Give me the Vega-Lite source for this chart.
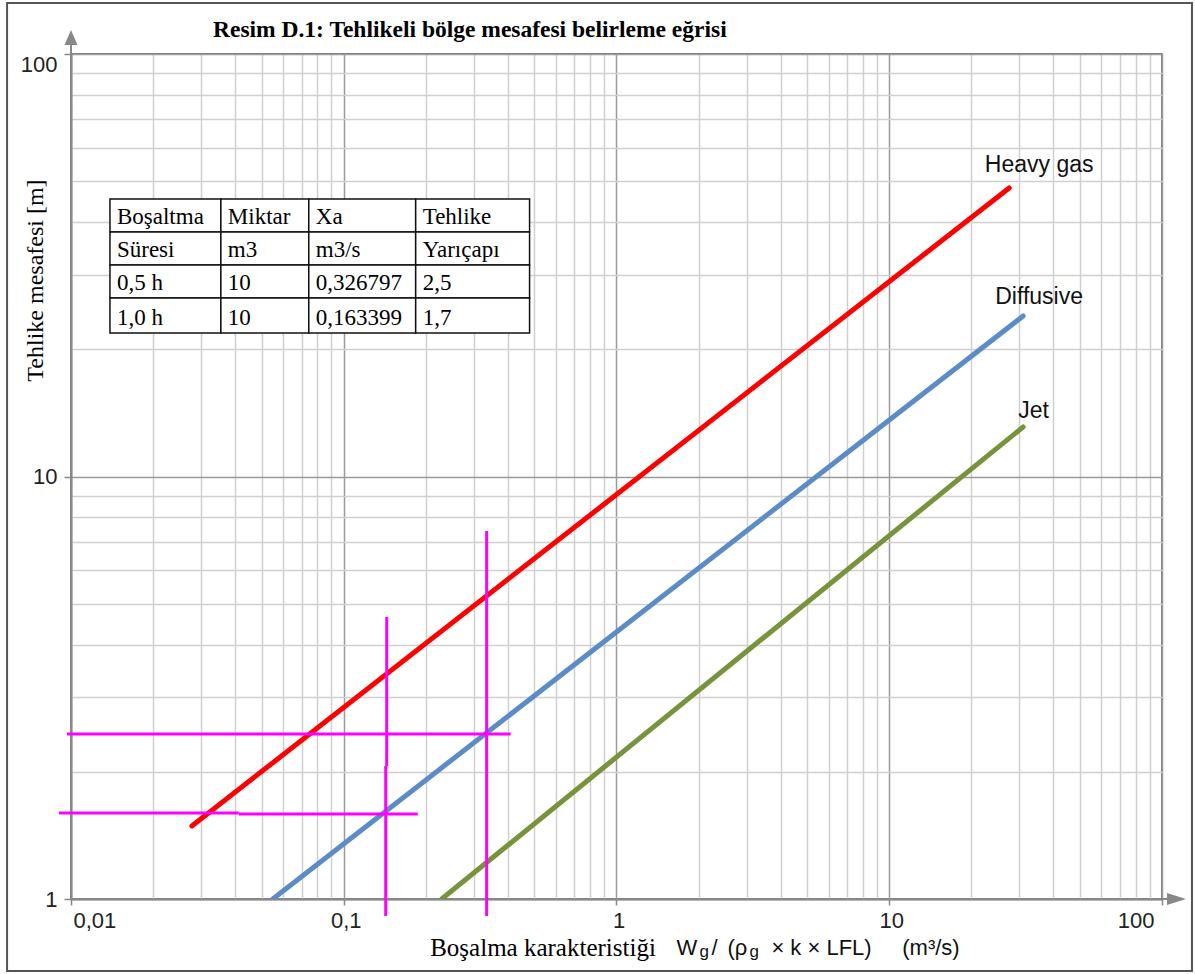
{
  "$schema": "https://vega.github.io/schema/vega-lite/v6.json",
  "width": 1091,
  "height": 845,
  "autosize": {"type": "none"},
  "padding": {"left": 71, "top": 54, "right": 33, "bottom": 75},
  "background": "white",
  "config": {"view": {"stroke": "#555555", "strokeWidth": 1.5}},
  "title": {
    "text": "Resim D.1: Tehlikeli bölge mesafesi belirleme eğrisi",
    "font": "Liberation Serif",
    "fontSize": 23.5,
    "fontWeight": "bold",
    "color": "#000000",
    "anchor": "start",
    "frame": "group",
    "dx": 142,
    "offset": -58,
    "baseline": "alphabetic"
  },
  "datasets": {
    "frame": [{"x": 0.005829, "x2": 128.8, "y": 132.0, "y2": 0.6755}],
    "cells": [
      {"x": 0.013895, "x2": 0.035438, "y": 45.38, "y2": 37.91},
      {"x": 0.035438, "x2": 0.074438, "y": 45.38, "y2": 37.91},
      {"x": 0.074438, "x2": 0.18354, "y": 45.38, "y2": 37.91},
      {"x": 0.18354, "x2": 0.48004, "y": 45.38, "y2": 37.91},
      {"x": 0.013895, "x2": 0.035438, "y": 37.91, "y2": 31.67},
      {"x": 0.035438, "x2": 0.074438, "y": 37.91, "y2": 31.67},
      {"x": 0.074438, "x2": 0.18354, "y": 37.91, "y2": 31.67},
      {"x": 0.18354, "x2": 0.48004, "y": 37.91, "y2": 31.67},
      {"x": 0.013895, "x2": 0.035438, "y": 31.67, "y2": 26.45},
      {"x": 0.035438, "x2": 0.074438, "y": 31.67, "y2": 26.45},
      {"x": 0.074438, "x2": 0.18354, "y": 31.67, "y2": 26.45},
      {"x": 0.18354, "x2": 0.48004, "y": 31.67, "y2": 26.45},
      {"x": 0.013895, "x2": 0.035438, "y": 26.45, "y2": 21.86},
      {"x": 0.035438, "x2": 0.074438, "y": 26.45, "y2": 21.86},
      {"x": 0.074438, "x2": 0.18354, "y": 26.45, "y2": 21.86},
      {"x": 0.18354, "x2": 0.48004, "y": 26.45, "y2": 21.86}
    ],
    "celltext": [
      {"x": 0.013895, "y": 37.91, "t": "Boşaltma"},
      {"x": 0.035438, "y": 37.91, "t": "Miktar"},
      {"x": 0.074438, "y": 37.91, "t": "Xa"},
      {"x": 0.18354, "y": 37.91, "t": "Tehlike"},
      {"x": 0.013895, "y": 31.67, "t": "Süresi"},
      {"x": 0.035438, "y": 31.67, "t": "m3"},
      {"x": 0.074438, "y": 31.67, "t": "m3/s"},
      {"x": 0.18354, "y": 31.67, "t": "Yarıçapı"},
      {"x": 0.013895, "y": 26.45, "t": "0,5 h"},
      {"x": 0.035438, "y": 26.45, "t": "10"},
      {"x": 0.074438, "y": 26.45, "t": "0,326797"},
      {"x": 0.18354, "y": 26.45, "t": "2,5"},
      {"x": 0.013895, "y": 21.86, "t": "1,0 h"},
      {"x": 0.035438, "y": 21.86, "t": "10"},
      {"x": 0.074438, "y": 21.86, "t": "0,163399"},
      {"x": 0.18354, "y": 21.86, "t": "1,7"}
    ],
    "lines": [
      {"s": "Heavy gas", "x": 0.02774, "y": 1.489},
      {"s": "Heavy gas", "x": 27.52, "y": 48.18},
      {"s": "Diffusive", "x": 0.05494, "y": 1.0},
      {"s": "Diffusive", "x": 30.96, "y": 23.98},
      {"s": "Jet", "x": 0.2286, "y": 1.0},
      {"s": "Jet", "x": 30.96, "y": 13.10}
    ],
    "magenta": [
      {"x": 0.3341, "y": 7.430, "x2": 0.3341, "y2": 0.9116},
      {"x": 0.1437, "y": 4.651, "x2": 0.1437, "y2": 2.064},
      {"x": 0.1425, "y": 2.064, "x2": 0.1425, "y2": 0.9116},
      {"x": 0.009668, "y": 2.458, "x2": 0.4090, "y2": 2.458},
      {"x": 0.009037, "y": 1.598, "x2": 0.04124, "y2": 1.598},
      {"x": 0.04124, "y": 1.589, "x2": 0.1867, "y2": 1.589}
    ],
    "curvelabels": [
      {"x": 35.44, "y": 52.56, "t": "Heavy gas"},
      {"x": 35.44, "y": 25.61, "t": "Diffusive"},
      {"x": 33.83, "y": 13.75, "t": "Jet"}
    ],
    "axisext": [
      {"x": 0.01, "y": 100, "x2": 0.01, "y2": 105.0},
      {"x": 100, "y": 1, "x2": 104.3, "y2": 1}
    ],
    "xtitle_main": [
      {"x": 1.659, "y": 0.737, "t": "W"},
      {"x": 2.228, "y": 0.737, "t": "/"},
      {"x": 2.551, "y": 0.737, "t": "(ρ"},
      {"x": 3.697, "y": 0.737, "t": "× k × LFL)"},
      {"x": 11.16, "y": 0.737, "t": "(m³/s)"}
    ],
    "xtitle_sub": [
      {"x": 2.014, "y": 0.729, "t": "g"},
      {"x": 3.071, "y": 0.729, "t": "g"}
    ]
  },
  "encoding": {
    "x": {
      "field": "x",
      "type": "quantitative",
      "scale": {"type": "log", "domain": [0.01, 100], "nice": false},
      "axis": {
        "title": "Boşalma karakteristiği",
        "titleFont": "Liberation Serif",
        "titleFontSize": 25,
        "titleFontWeight": "normal",
        "titleColor": "#000000",
        "titleX": 471.5,
        "titleY": 56,
        "titleBaseline": "alphabetic",
        "titleAlign": "center",
        "values": [0.01, 0.02, 0.03, 0.04, 0.05, 0.06, 0.07, 0.08, 0.09, 0.1, 0.2, 0.3, 0.4, 0.5, 0.6, 0.7, 0.8, 0.9, 1, 2, 3, 4, 5, 6, 7, 8, 9, 10, 20, 30, 40, 50, 60, 70, 80, 90, 100],
        "grid": true,
        "gridColor": {"condition": {"test": "abs(log(datum.value)/LN10 - round(log(datum.value)/LN10)) < 0.001", "value": "#9a9a9a"}, "value": "#d0d0d0"},
        "gridWidth": 1.5,
        "domainColor": "#888888",
        "domainWidth": 2,
        "tickColor": "#888888",
        "tickWidth": 1.5,
        "tickSize": 6,
        "tickOpacity": {"condition": {"test": "abs(log(datum.value)/LN10 - round(log(datum.value)/LN10)) < 0.001", "value": 1}, "value": 0},
        "labelExpr": "abs(log(datum.value)/LN10 - round(log(datum.value)/LN10)) < 0.001 ? replace(format(datum.value, ''), '.', ',') : ''",
        "labelFont": "Liberation Sans",
        "labelFontSize": 22,
        "labelColor": "#222222",
        "labelFlush": true,
        "labelOverlap": false,
        "labelPadding": 5,
        "labelOffset": {"condition": {"test": "datum.value > 50", "value": -8}, "value": 2}
      }
    },
    "y": {
      "field": "y",
      "type": "quantitative",
      "scale": {"type": "log", "domain": [1, 100], "nice": false},
      "axis": {
        "title": "Tehlike mesafesi [m]",
        "titleFont": "Liberation Serif",
        "titleFontSize": 24,
        "titleFontWeight": "normal",
        "titleColor": "#000000",
        "titleX": -29,
        "titleY": 226,
        "titleAngle": 270,
        "titleBaseline": "alphabetic",
        "titleAlign": "center",
        "values": [1, 2, 3, 4, 5, 6, 7, 8, 9, 10, 20, 30, 40, 50, 60, 70, 80, 90, 100],
        "grid": true,
        "gridColor": {"condition": {"test": "abs(log(datum.value)/LN10 - round(log(datum.value)/LN10)) < 0.001", "value": "#9a9a9a"}, "value": "#d0d0d0"},
        "gridWidth": 1.5,
        "domainColor": "#888888",
        "domainWidth": 2,
        "tickColor": "#888888",
        "tickWidth": 1.5,
        "tickSize": 7,
        "tickOpacity": {"condition": {"test": "abs(log(datum.value)/LN10 - round(log(datum.value)/LN10)) < 0.001", "value": 1}, "value": 0},
        "labelExpr": "abs(log(datum.value)/LN10 - round(log(datum.value)/LN10)) < 0.001 ? replace(format(datum.value, ''), '.', ',') : ''",
        "labelFont": "Liberation Sans",
        "labelFontSize": 22,
        "labelColor": "#222222",
        "labelOverlap": false,
        "labelPadding": 7,
        "labelBaseline": {"condition": {"test": "datum.value > 50", "value": "top"}, "value": "middle"}
      }
    }
  },
  "layer": [
    {
      "data": {"name": "frame"},
      "mark": {"type": "rect", "fill": "transparent", "stroke": "#555555", "strokeWidth": 2, "clip": false},
      "encoding": {"x2": {"field": "x2"}, "y2": {"field": "y2"}}
    },
    {
      "data": {"name": "cells"},
      "mark": {"type": "rect", "fill": "white", "stroke": "#111111", "strokeWidth": 1.5},
      "encoding": {"x2": {"field": "x2"}, "y2": {"field": "y2"}}
    },
    {
      "data": {"name": "celltext"},
      "mark": {"type": "text", "font": "Liberation Serif", "fontSize": 23, "align": "left", "baseline": "alphabetic", "dx": 7, "dy": -8, "color": "#000000"},
      "encoding": {"text": {"field": "t"}}
    },
    {
      "data": {"name": "lines"},
      "mark": {"type": "line", "strokeWidth": 5, "strokeCap": "round", "clip": true},
      "encoding": {
        "color": {"field": "s", "type": "nominal", "scale": {"domain": ["Heavy gas", "Diffusive", "Jet"], "range": ["#ff0000", "#5b8bc8", "#77933c"]}, "legend": null}
      }
    },
    {
      "data": {"name": "magenta"},
      "mark": {"type": "rule", "color": "#ff00ff", "strokeWidth": 3, "clip": false},
      "encoding": {"x2": {"field": "x2"}, "y2": {"field": "y2"}}
    },
    {
      "data": {"name": "curvelabels"},
      "mark": {"type": "text", "font": "Liberation Sans", "fontSize": 23, "align": "center", "baseline": "alphabetic", "color": "#111111"},
      "encoding": {"text": {"field": "t"}}
    },
    {
      "data": {"name": "axisext"},
      "mark": {"type": "rule", "color": "#888888", "strokeWidth": 2, "clip": false},
      "encoding": {"x2": {"field": "x2"}, "y2": {"field": "y2"}}
    },
    {
      "data": {"values": [{"x": 0.01, "y": 109.4}]},
      "mark": {"type": "point", "shape": "M0,-1L-0.87,1L0.87,1Z", "size": 225, "filled": true, "color": "#888888", "opacity": 1, "clip": false}
    },
    {
      "data": {"values": [{"x": 113.0, "y": 1}]},
      "mark": {"type": "point", "shape": "M1,0L-1,-0.63L-1,0.63Z", "size": 361, "filled": true, "color": "#888888", "opacity": 1, "clip": false}
    },
    {
      "data": {"name": "xtitle_main"},
      "mark": {"type": "text", "font": "Liberation Sans", "fontSize": 22, "align": "left", "baseline": "alphabetic", "color": "#111111", "clip": false},
      "encoding": {"text": {"field": "t"}}
    },
    {
      "data": {"name": "xtitle_sub"},
      "mark": {"type": "text", "font": "Liberation Sans", "fontSize": 17, "align": "left", "baseline": "alphabetic", "color": "#111111", "clip": false},
      "encoding": {"text": {"field": "t"}}
    }
  ]
}
